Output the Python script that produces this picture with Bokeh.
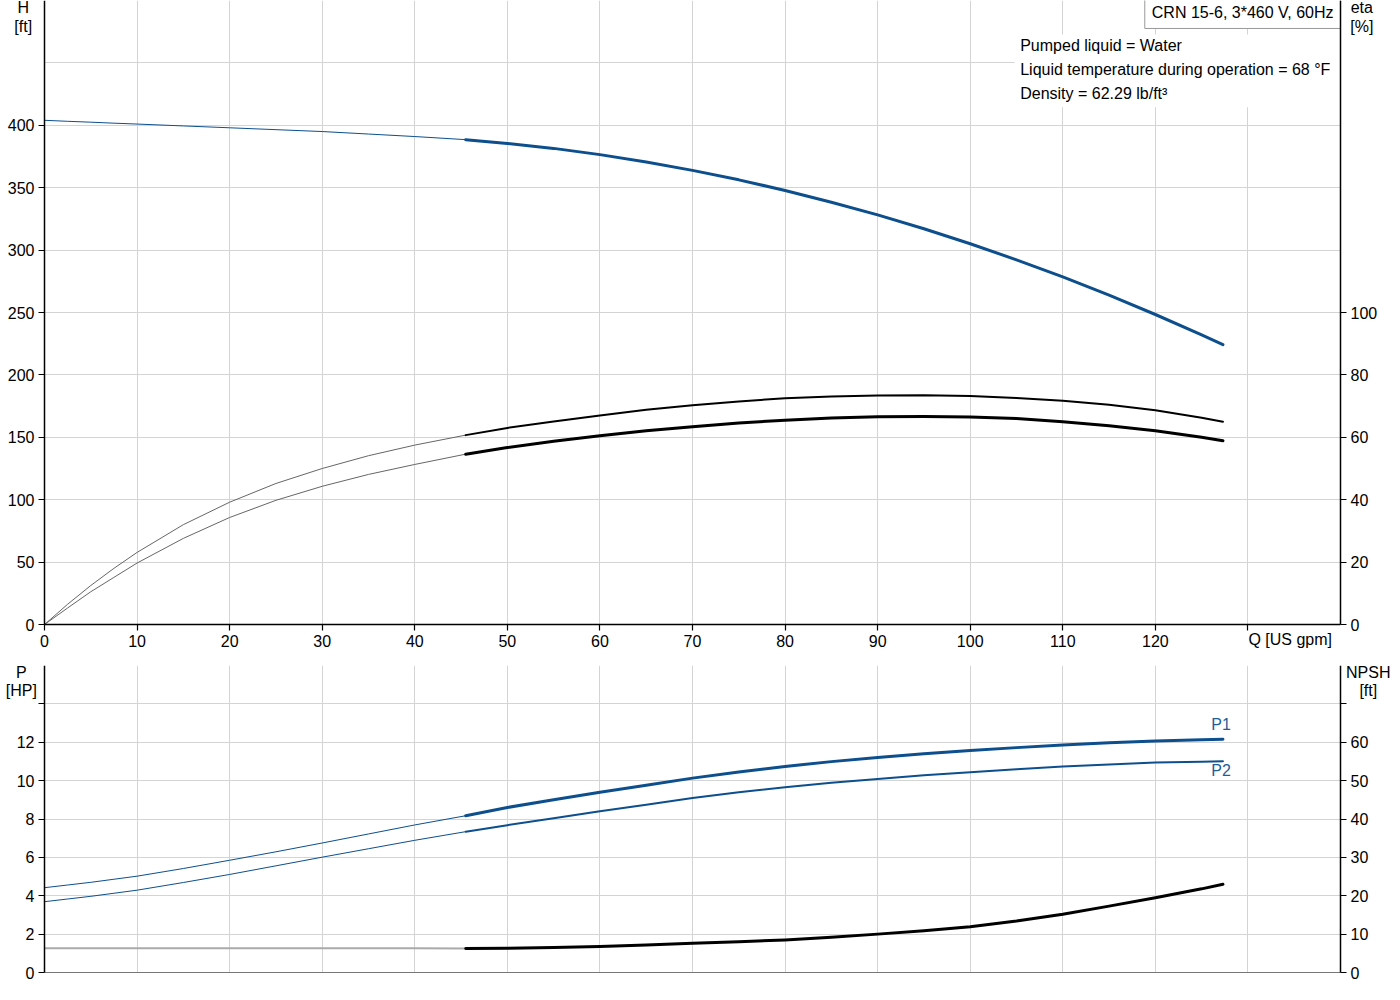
from bokeh.plotting import figure
from bokeh.models import Range1d, LinearAxis, FixedTicker, Label, BoxAnnotation, Grid
from bokeh.layouts import column
from bokeh.embed import file_html
from bokeh.resources import INLINE

FONT = "Liberation Sans"
FS = "16px"
BLUE = "#0c4f8c"
LBLUE = "#1f5d99"
GRID = "#d4d4d4"
EDGE = "#777777"

# ---------------- data ----------------
Q = [0, 2.5, 5, 7.5, 10, 15, 20, 25, 30, 35, 40, 45.5, 50, 55, 60, 65, 70, 75,
     80, 85, 90, 95, 100, 105, 110, 115, 120, 125, 127.3]
H_FT = [404, 403.2, 402.5, 401.7, 401, 399.5, 398, 396.5, 395, 393, 391,
        388.5, 385.5, 381.5, 376.5, 370.6, 363.9, 356.3, 347.8, 338.4, 328.2,
        317.1, 305.1, 292.2, 278.5, 263.9, 248.4, 232.0, 224.2]
ETA_A = [0, 6.5, 12.5, 18.0, 23.1, 32.0, 39.2, 45.2, 50.0, 54.1, 57.5, 60.7,
         63.0, 65.1, 67.0, 68.8, 70.3, 71.5, 72.5, 73.1, 73.4, 73.5, 73.2,
         72.6, 71.7, 70.4, 68.7, 66.3, 65.0]
ETA_B = [0, 5.3, 10.5, 15.1, 19.7, 27.6, 34.3, 39.8, 44.3, 48.1, 51.3, 54.6,
         56.7, 58.7, 60.5, 62.1, 63.4, 64.6, 65.5, 66.2, 66.6, 66.7, 66.5,
         66.0, 65.0, 63.7, 62.1, 60.0, 58.9]
P1_HP = [4.42, 4.56, 4.7, 4.86, 5.02, 5.42, 5.85, 6.29, 6.75, 7.22, 7.69, 8.17,
         8.6, 9.0, 9.39, 9.76, 10.13, 10.45, 10.74, 10.99, 11.2, 11.4, 11.57,
         11.72, 11.86, 11.97, 12.07, 12.13, 12.16]
P2_HP = [3.69, 3.83, 3.97, 4.13, 4.29, 4.69, 5.11, 5.56, 6.01, 6.45, 6.89,
         7.34, 7.68, 8.04, 8.40, 8.74, 9.09, 9.39, 9.66, 9.89, 10.09, 10.28,
         10.44, 10.59, 10.73, 10.84, 10.94, 10.99, 11.01]
NPSH_FT = [6.3, 6.3, 6.3, 6.3, 6.3, 6.3, 6.3, 6.3, 6.3, 6.3, 6.3, 6.25, 6.3,
           6.5, 6.75, 7.15, 7.6, 8.0, 8.5, 9.2, 10.0, 10.9, 11.9, 13.4, 15.2,
           17.3, 19.5, 21.8, 23.0]
SPLIT = 11  # index where the duty range (thick line) begins

X_TICKS = [0, 10, 20, 30, 40, 50, 60, 70, 80, 90, 100, 110, 120, 130]
X_GRID = [10, 20, 30, 40, 50, 60, 70, 80, 90, 100, 110, 120, 130]
H_TICKS = [0, 50, 100, 150, 200, 250, 300, 350, 400]
H_GRID = [50, 100, 150, 200, 250, 300, 350, 400, 450]
ETA_TICKS = [0, 20, 40, 60, 80, 100]
P_TICKS = [0, 2, 4, 6, 8, 10, 12, 14]
P_GRID = [2, 4, 6, 8, 10, 12, 14]
NPSH_TICKS = [0, 10, 20, 30, 40, 50, 60, 70]

Q_MAX, H_MAX, ETA_MAX, P_MAX, NPSH_MAX = 140, 500, 200, 16, 80

TITLE = "CRN 15-6, 3*460 V, 60Hz"
INFO = ["Pumped liquid = Water",
        "Liquid temperature during operation = 68 °F",
        "Density = 62.29 lb/ft³"]

# ---------------- layout in pixels ----------------
FIG_W, LEFT, FRAME_W = 1392, 44, 1296
TOP_H, TOP_FRAME = 665, 624
BOT_H, BOT_FRAME = 320, 307

sx = FRAME_W / Q_MAX
X0 = -LEFT / sx
X1 = Q_MAX + (FIG_W - LEFT - FRAME_W) / sx


def lower(vmax, frame_px, fig_px):
    return -(fig_px - frame_px) * vmax / frame_px


def style_axis(ax):
    ax.axis_line_color = "black"
    ax.axis_line_width = 1.5
    ax.major_tick_line_color = "black"
    ax.major_tick_line_width = 1.2
    ax.major_tick_out = 6
    ax.major_tick_in = 0
    ax.minor_tick_out = 0
    ax.minor_tick_in = 0
    ax.major_label_text_font = FONT
    ax.major_label_text_font_size = FS
    ax.major_label_text_color = "black"
    ax.major_label_standoff = 4


def grid(p, dim, ticks, cross, color=GRID, width=1):
    p.add_layout(Grid(dimension=dim, ticker=FixedTicker(ticks=ticks),
                      bounds=(-1000, 1000), cross_bounds=cross,
                      grid_line_color=color, grid_line_width=width), "center")


def lbl(p, x, y, text, align="center", color="black", **kw):
    p.add_layout(Label(x=x, y=y, text=text, text_align=align,
                       text_baseline="middle", text_font=FONT,
                       text_font_size=FS, text_color=color, **kw))


def two_part(p, yvals, color, thick_w, thin_color=None, thin_w=1, y_range_name="default"):
    tc = thin_color or color
    p.line(Q[:SPLIT + 1], yvals[:SPLIT + 1], line_color=tc, line_width=thin_w,
           line_join="round", y_range_name=y_range_name)
    p.line(Q[SPLIT:], yvals[SPLIT:], line_color=color, line_width=thick_w,
           line_cap="round", line_join="round", y_range_name=y_range_name)


def base_fig(h, ymin, ymax):
    p = figure(width=FIG_W, height=h, x_range=Range1d(X0, X1),
               y_range=Range1d(ymin, ymax), output_backend="svg",
               toolbar_location=None, x_axis_location=None,
               y_axis_location=None, min_border=0)
    p.outline_line_color = None
    p.center = [r for r in p.center if not isinstance(r, Grid)]
    return p


# ---------------- top figure: H and eta ----------------
top = base_fig(TOP_H, lower(H_MAX, TOP_FRAME, TOP_H), H_MAX)
top.extra_y_ranges = {"eta": Range1d(lower(ETA_MAX, TOP_FRAME, TOP_H), ETA_MAX)}
grid(top, 0, X_GRID, (0, H_MAX))
grid(top, 1, H_GRID, (0, Q_MAX))
grid(top, 1, [H_MAX], (0, Q_MAX), color=EDGE)

# white panels behind the header texts (drawn below axes and curves)
top.add_layout(BoxAnnotation(left=104.8, right=Q_MAX, bottom=414.4, top=472.8,
                             fill_color="white", fill_alpha=1.0,
                             line_color=None, level="underlay"))
lbl(top, Q_MAX, 490, TITLE, align="right", level="underlay",
    border_line_color="#999999", background_fill_color="white", padding=7)

x_axis = LinearAxis(ticker=FixedTicker(ticks=X_TICKS), fixed_location=0,
                    bounds=(0, Q_MAX), major_label_overrides={130: ""})
h_axis = LinearAxis(ticker=FixedTicker(ticks=H_TICKS), fixed_location=0,
                    bounds=(0, H_MAX))
eta_axis = LinearAxis(y_range_name="eta", ticker=FixedTicker(ticks=ETA_TICKS),
                      fixed_location=Q_MAX, bounds=(0, ETA_MAX))
top.add_layout(x_axis, "below")
top.add_layout(h_axis, "left")
top.add_layout(eta_axis, "right")
for ax in (x_axis, h_axis, eta_axis):
    style_axis(ax)

two_part(top, H_FT, BLUE, 3)
two_part(top, ETA_A, "black", 2, thin_color="#666666", y_range_name="eta")
two_part(top, ETA_B, "black", 3, thin_color="#666666", y_range_name="eta")

for text, y in zip(INFO, [464, 444.8, 425.6]):
    lbl(top, 105.4, y, text, align="left")

# axis titles
lbl(top, -2.3, 494, "H")
lbl(top, -2.3, 479.5, "[ft]")
lbl(top, 142.3, 494, "eta")
lbl(top, 142.3, 479.5, "[%]")
lbl(top, 130.05, -12, "Q [US gpm]", align="left")

# ---------------- bottom figure: P and NPSH ----------------
bot = base_fig(BOT_H, lower(P_MAX, BOT_FRAME, BOT_H), P_MAX)
bot.extra_y_ranges = {"npsh": Range1d(lower(NPSH_MAX, BOT_FRAME, BOT_H), NPSH_MAX)}
grid(bot, 0, X_GRID, (0, P_MAX))
grid(bot, 1, P_GRID, (0, Q_MAX))
grid(bot, 1, [0, P_MAX], (0, Q_MAX), color=EDGE, width=1.2)

p_axis = LinearAxis(ticker=FixedTicker(ticks=P_TICKS), fixed_location=0,
                    bounds=(0, P_MAX), major_label_overrides={14: ""})
npsh_axis = LinearAxis(y_range_name="npsh", ticker=FixedTicker(ticks=NPSH_TICKS),
                       fixed_location=Q_MAX, bounds=(0, NPSH_MAX),
                       major_label_overrides={70: ""})
bot.add_layout(p_axis, "left")
bot.add_layout(npsh_axis, "right")
for ax in (p_axis, npsh_axis):
    style_axis(ax)

two_part(bot, P1_HP, BLUE, 3)
two_part(bot, P2_HP, BLUE, 2)
two_part(bot, NPSH_FT, "black", 3, thin_color="#aaaaaa", thin_w=2,
         y_range_name="npsh")

lbl(bot, 127.1, 12.93, "P1", color=LBLUE)
lbl(bot, 127.1, 10.53, "P2", color=LBLUE)
lbl(bot, -2.5, 15.64, "P")
lbl(bot, -2.5, 14.70, "[HP]")
lbl(bot, 143.0, 15.64, "NPSH")
lbl(bot, 143.0, 14.70, "[ft]")

layout = column(top, bot, spacing=0)
open("out.html", "w").write(file_html(layout, INLINE))
